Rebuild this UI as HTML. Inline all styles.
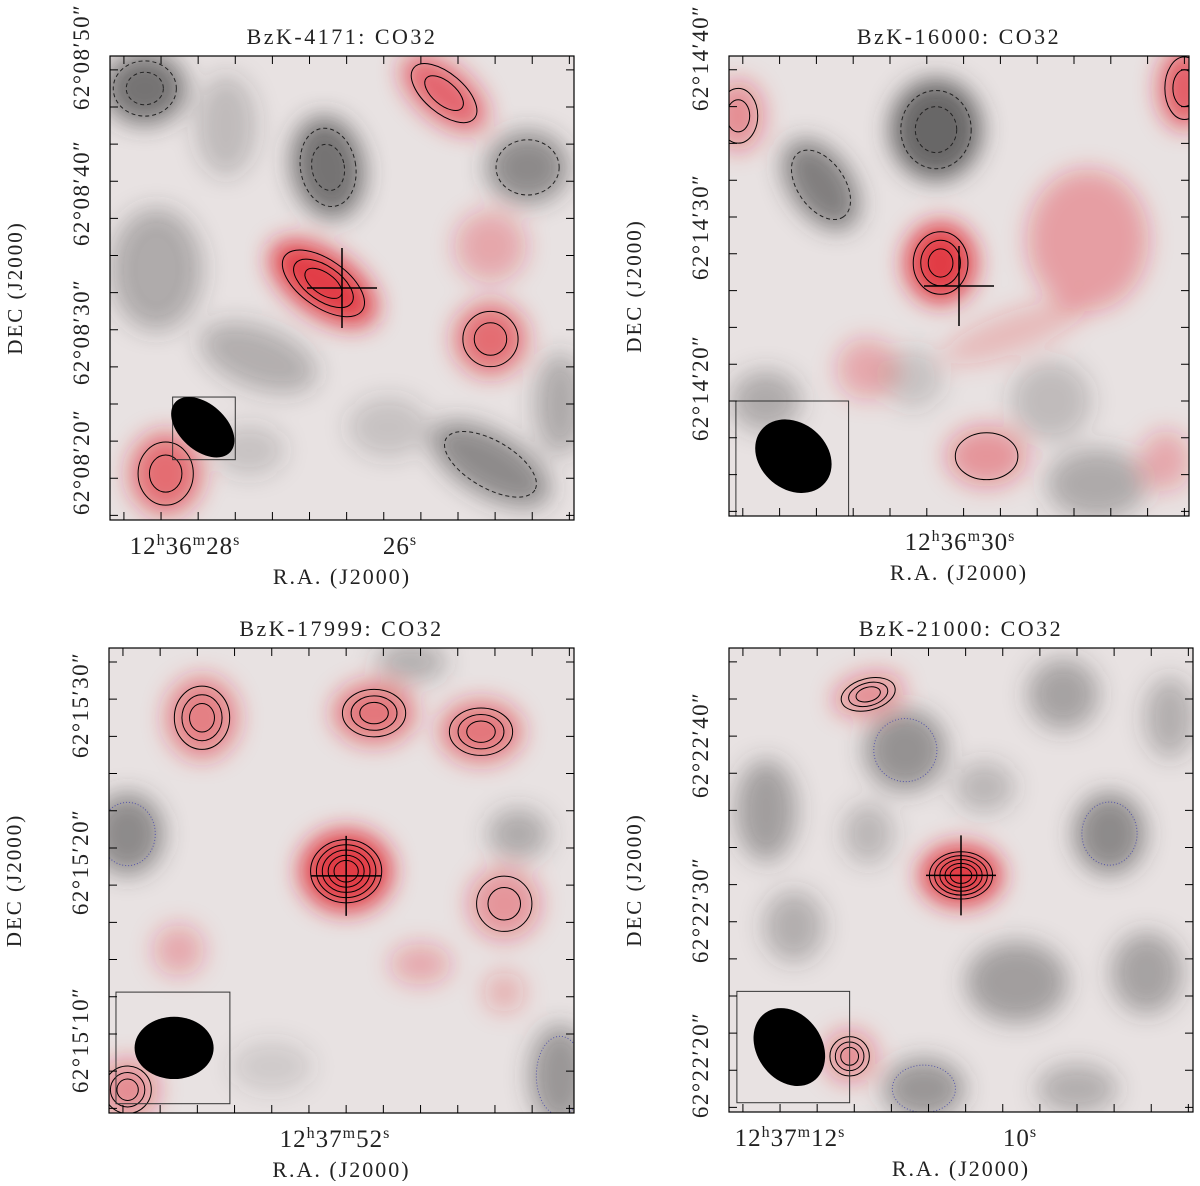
<!DOCTYPE html>
<html><head><meta charset="utf-8"><style>
body{margin:0;background:#fff;width:1200px;height:1181px;overflow:hidden;font-family:"Liberation Serif",serif;}
svg text{font-family:"Liberation Serif",serif;fill:#222;}
</style></head><body>
<svg id="fig" width="1200" height="1181" viewBox="0 0 1200 1181" xmlns="http://www.w3.org/2000/svg">
<defs>
<filter id="blur" x="-20%" y="-20%" width="140%" height="140%"><feGaussianBlur stdDeviation="12"/></filter>
</defs>
</svg>
<script>
// Panel blobs: [xfrac, yfrac, rx(frac), ry(frac), angleDeg, amplitude]
const panel1Blobs=[[0.075,0.07,0.08,0.07,0,-0.9],[0.72,0.08,0.1,0.05,40,0.75],[0.47,0.24,0.07,0.1,-10,-0.9],[0.9,0.24,0.08,0.07,0,-0.7],[0.46,0.49,0.12,0.06,35,1.0],[0.82,0.61,0.07,0.07,0,0.7],[0.82,0.41,0.07,0.07,0,0.35],[0.1,0.46,0.09,0.12,0,-0.45],[0.32,0.65,0.12,0.06,20,-0.4],[0.12,0.9,0.07,0.08,0,0.7],[0.82,0.88,0.13,0.06,30,-0.7],[0.25,0.15,0.06,0.1,0,-0.3],[0.97,0.75,0.05,0.1,0,-0.45],[0.6,0.8,0.08,0.06,0,-0.25],[0.3,0.85,0.07,0.05,0,-0.25]];
const panel2Blobs=[[0.45,0.16,0.09,0.1,0,-1.0],[0.2,0.28,0.1,0.06,55,-0.8],[0.46,0.45,0.07,0.08,0,1.0],[0.78,0.4,0.12,0.14,0,0.4],[0.99,0.07,0.05,0.08,0,0.8],[0.02,0.13,0.05,0.07,0,0.5],[0.56,0.87,0.08,0.06,0,0.45],[0.8,0.93,0.1,0.07,0,-0.45],[0.08,0.75,0.07,0.06,0,-0.45],[0.3,0.68,0.06,0.06,0,0.35],[0.95,0.88,0.05,0.06,0,0.35],[0.62,0.6,0.15,0.04,-20,0.25],[0.7,0.75,0.08,0.08,0,-0.3],[0.4,0.7,0.06,0.06,0,-0.25]];
const panel3Blobs=[[0.2,0.15,0.07,0.08,0,0.6],[0.57,0.14,0.08,0.06,0,0.65],[0.8,0.18,0.08,0.06,0,0.65],[0.51,0.48,0.09,0.08,0,1.0],[0.85,0.55,0.07,0.07,0,0.45],[0.15,0.65,0.05,0.05,0,0.35],[0.67,0.68,0.06,0.04,0,0.35],[0.85,0.74,0.04,0.04,0,0.3],[0.04,0.95,0.06,0.06,0,0.5],[0.04,0.4,0.07,0.08,0,-0.7],[0.97,0.92,0.06,0.1,0,-0.6],[0.88,0.4,0.06,0.05,0,-0.45],[0.65,0.03,0.07,0.04,0,-0.4],[0.35,0.9,0.08,0.05,0,-0.2]];
const panel4Blobs=[[0.3,0.1,0.07,0.04,-15,0.5],[0.5,0.49,0.08,0.06,0,1.0],[0.26,0.88,0.05,0.05,0,0.5],[0.38,0.22,0.08,0.08,0,-0.65],[0.82,0.4,0.07,0.08,0,-0.7],[0.08,0.35,0.06,0.1,0,-0.55],[0.62,0.72,0.1,0.08,0,-0.55],[0.9,0.7,0.07,0.08,0,-0.5],[0.72,0.1,0.07,0.07,0,-0.5],[0.42,0.95,0.08,0.06,0,-0.6],[0.14,0.6,0.06,0.07,0,-0.4],[0.55,0.3,0.06,0.05,0,-0.35],[0.95,0.15,0.05,0.08,0,-0.4],[0.3,0.4,0.05,0.06,0,-0.35],[0.75,0.95,0.08,0.05,0,-0.4]];
// Panel layout and labels
const panels=[
 {x:110,y:56,s:464,title:"BzK-4171: CO32",blobs:panel1Blobs,cross:[0.5,0.5],beam:[0.2,0.8,0.08,0.05,42],box:[0.135,0.735,0.27,0.87],ylab:["62°08′50″","62°08′40″","62°08′30″","62°08′20″"],yc:[57,193,332,462],xlab:[["12","h","36","m","28","s",185],["","","","","26","s",400]]},
 {x:729,y:56,s:460,title:"BzK-16000: CO32",blobs:panel2Blobs,cross:[0.5,0.5],beam:[0.14,0.87,0.09,0.072,40],box:[0.015,0.75,0.26,1.0],ylab:["62°14′40″","62°14′30″","62°14′20″"],yc:[58,227,388],xlab:[["12","h","36","m","30","s",960]]},
 {x:109,y:648,s:465,title:"BzK-17999: CO32",blobs:panel3Blobs,cross:[0.51,0.49],beam:[0.14,0.86,0.085,0.067,0],box:[0.015,0.74,0.26,0.98],ylab:["62°15′30″","62°15′20″","62°15′10″"],yc:[705,862,1040],xlab:[["12","h","37","m","52","s",335]]},
 {x:729,y:648,s:464,title:"BzK-21000: CO32",blobs:panel4Blobs,cross:[0.5,0.49],beam:[0.13,0.86,0.07,0.09,-35],box:[0.017,0.74,0.26,0.98],ylab:["62°22′40″","62°22′30″","62°22′20″"],yc:[745,910,1065],xlab:[["12","h","37","m","12","s",790],["","","","","10","s",1020]]}
];
const NS="http://www.w3.org/2000/svg";
const svg=document.getElementById('fig');
function mk(t,a,p){const e=document.createElementNS(NS,t);for(const k in a)e.setAttribute(k,a[k]);(p||svg).appendChild(e);return e;}
panels.forEach((P,i)=>{
 const g=mk('g',{});
 
 
 const cid='clip'+i;
 const cp=mk('clipPath',{id:cid},g);mk('rect',{x:P.x,y:P.y,width:P.s,height:P.s},cp);
 const bg=mk('rect',{x:P.x,y:P.y,width:P.s,height:P.s,fill:'#e8e2e2'},g);
 
 
 const hg=mk('g',{'clip-path':'url(#'+cid+')'},g);
 const bl=mk('g',{filter:'url(#blur)'},hg);
 const X=f=>P.x+f*P.s, Y=f=>P.y+f*P.s;
 P.blobs.forEach(b=>{
  const col=b[5]>0?'rgb(225,30,40)':'rgb(60,60,60)';
  const op=b[5]>0?b[5]*0.85:-b[5]*0.75;
  const e=mk('ellipse',{cx:X(b[0]),cy:Y(b[1]),rx:b[2]*P.s*1.1,ry:b[3]*P.s*1.1,fill:col,'fill-opacity':op,transform:`rotate(${b[4]} ${X(b[0])} ${Y(b[1])})`},bl);
  
  
 });
 // contours
 const cg=mk('g',{},hg);
 P.blobs.forEach(b=>{
  const a=Math.abs(b[5]);
  if(b[5]>0&&a<0.45) return;
  if(b[5]<0&&a<(i>=2?0.6:0.65)) return;
  const n=b[5]>0?Math.max(1,Math.round(a*(i>=2?5:3))):(a>0.85?2:1);
  for(let k=0;k<n;k++){
   const f=0.85-k*(0.7/n);
   const c=mk('ellipse',{cx:X(b[0]),cy:Y(b[1]),rx:b[2]*P.s*f,ry:b[3]*P.s*f,fill:'none',stroke:b[5]>0?'#000':(i>=2?'#55a':'#222'),'stroke-width':1,'stroke-dasharray':b[5]>0?'none':(i>=2?'1 2':'4 3'),transform:`rotate(${b[4]} ${X(b[0])} ${Y(b[1])})`},cg);
   
   
  }
 });
 // beam
 const bx=mk('rect',{x:X(P.box[0]),y:Y(P.box[1]),width:(P.box[2]-P.box[0])*P.s,height:(P.box[3]-P.box[1])*P.s,fill:'none',stroke:'#333','stroke-width':1},g);
 
 
 const be=mk('ellipse',{cx:X(P.beam[0]),cy:Y(P.beam[1]),rx:P.beam[2]*P.s,ry:P.beam[3]*P.s,fill:'#000',transform:`rotate(${P.beam[4]} ${X(P.beam[0])} ${Y(P.beam[1])})`},g);
 
 
 // cross
 const cx=X(P.cross[0]),cy=Y(P.cross[1]);
 const cr=mk('path',{d:`M${cx-35} ${cy}H${cx+35}M${cx} ${cy-40}V${cy+40}`,stroke:'#000','stroke-width':1.5},g);
 
 
 // frame + ticks
 const fr=mk('rect',{x:P.x,y:P.y,width:P.s,height:P.s,fill:'none',stroke:'#000','stroke-width':1.2},g);
 
 
 let d='';
 for(let t=0.03;t<1;t+=0.08){d+=`M${P.x} ${Y(t)}h8M${P.x+P.s} ${Y(t)}h-8M${X(t)} ${P.y}v8M${X(t)} ${P.y+P.s}v-8`;}
 const tk=mk('path',{d:d,stroke:'#000','stroke-width':1},g);
 
 
 // title
 const tt=mk('text',{x:P.x+P.s/2,y:P.y-12,'text-anchor':'middle','font-size':22,'letter-spacing':'2.5'},g);
 tt.textContent=P.title;
 
 
 // y labels
 P.ylab.forEach((l,j)=>{
  const t=mk('text',{x:0,y:0,'text-anchor':'middle','font-size':23,'letter-spacing':'1.5',transform:`translate(${P.x-21} ${P.yc[j]}) rotate(-90)`},g);
  t.textContent=l;
  
  
 });
 const dl=mk('text',{x:0,y:0,'text-anchor':'middle','font-size':21,'letter-spacing':'2',transform:`translate(${P.x-88} ${P.y+P.s/2}) rotate(-90)`},g);
 dl.textContent='DEC (J2000)';
 
 
 P.xlab.forEach(L=>{
  const t=mk('text',{x:L[6],y:P.y+P.s+34,'text-anchor':'middle','font-size':25,'letter-spacing':'1'},g);
  let h='';
  for(let q=0;q<6;q+=2){
   if(!L[q]) continue;
   h+=`<tspan>${L[q]}</tspan><tspan font-size="16" baseline-shift="55%">${L[q+1]}</tspan>`;
  }
  t.innerHTML=h;
  
  
 });
 const xl=mk('text',{x:P.x+P.s/2,y:P.y+P.s+64,'text-anchor':'middle','font-size':22,'letter-spacing':'2'},g);
 xl.textContent='R.A. (J2000)';
 
 
});
</script>
</body></html>
